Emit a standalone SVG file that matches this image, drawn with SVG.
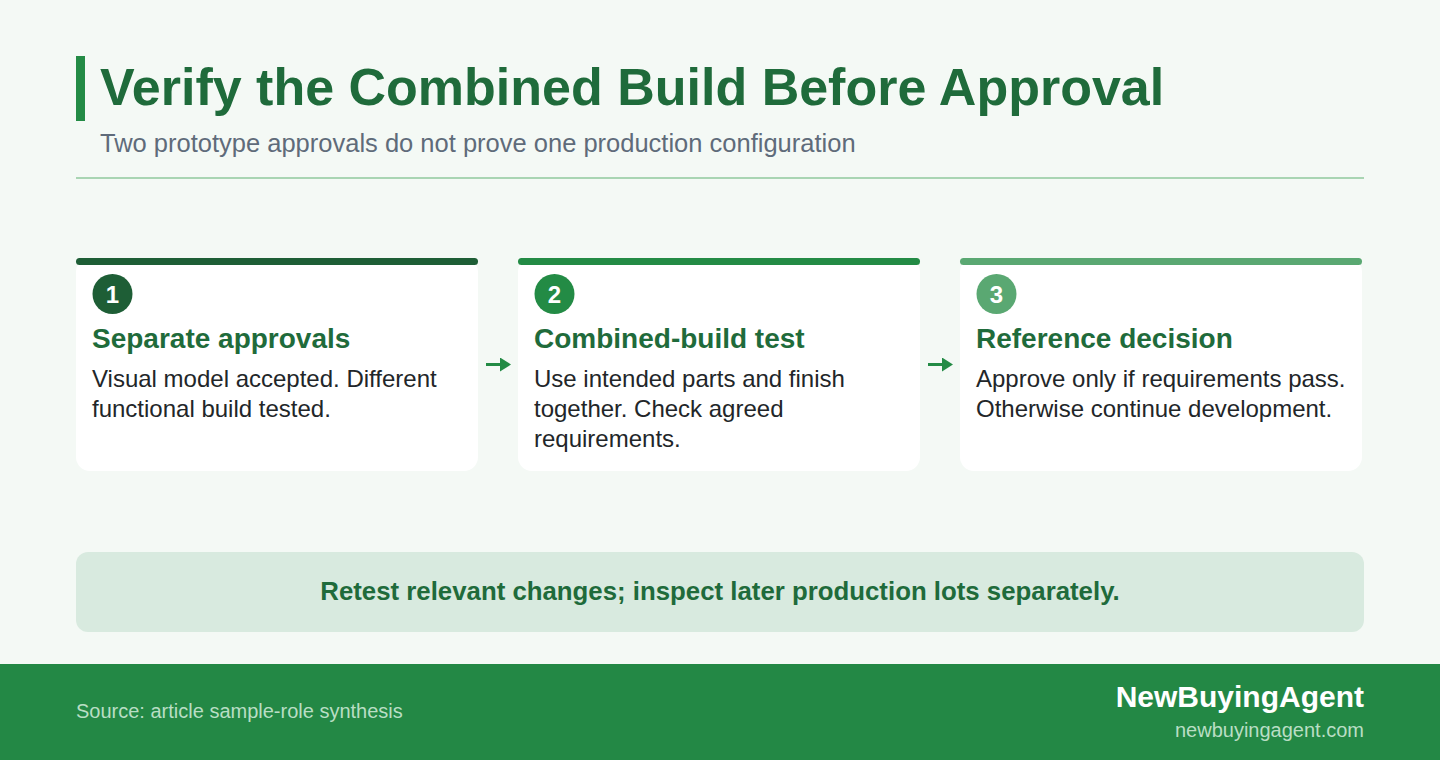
<svg xmlns="http://www.w3.org/2000/svg" width="1440" height="760" viewBox="0 0 1440 760">
<style>
text{font-family:"Liberation Sans",Arial,sans-serif}
.title{font-size:52px;font-weight:bold;fill:#1f6b3b}
.sub{font-size:25.5px;fill:#5f6b7a}
.card{fill:#ffffff}
.head{font-size:28px;font-weight:bold;fill:#1f6b3b}
.body{font-size:24px;fill:#222629}
.num{font-size:24px;font-weight:bold;fill:#ffffff;text-anchor:middle}
.conn{stroke:#238b45;stroke-width:3;fill:none}
</style>
<defs>
<marker id="ah" markerWidth="11" markerHeight="14" refX="0" refY="7" orient="auto" markerUnits="userSpaceOnUse">
<path d="M0,0 L11,7 L0,14 Z" fill="#238b45"/>
</marker>
</defs>
<rect width="1440" height="760" fill="#f4f9f5"/>
<g id="header">
<rect x="76" y="56" width="9" height="65" fill="#238b45"/>
<text class="title" x="100" y="105">Verify the Combined Build Before Approval</text>
<text class="sub" x="100" y="152">Two prototype approvals do not prove one production configuration</text>
<rect x="76" y="177" width="1288" height="2" fill="#a9d5b3"/>
</g>
<g id="step1">
<rect class="card" x="76" y="258" width="402" height="213" rx="14"/>
<rect x="76" y="258" width="402" height="7" rx="3.5" fill="#1e5e36"/>
<circle cx="112.5" cy="294" r="20" fill="#1e5e36"/>
<text class="num" x="112.5" y="302.5">1</text>
<text class="head" x="92" y="348">Separate approvals</text>
<text class="body" x="92" y="387">Visual model accepted. Different</text>
<text class="body" x="92" y="417">functional build tested.</text>
</g>
<g id="step2">
<rect class="card" x="518" y="258" width="402" height="213" rx="14"/>
<rect x="518" y="258" width="402" height="7" rx="3.5" fill="#238b45"/>
<circle cx="554.5" cy="294" r="20" fill="#238b45"/>
<text class="num" x="554.5" y="302.5">2</text>
<text class="head" x="534" y="348">Combined-build test</text>
<text class="body" x="534" y="387">Use intended parts and finish</text>
<text class="body" x="534" y="417">together. Check agreed</text>
<text class="body" x="534" y="447">requirements.</text>
</g>
<g id="step3">
<rect class="card" x="960" y="258" width="402" height="213" rx="14"/>
<rect x="960" y="258" width="402" height="7" rx="3.5" fill="#5aa872"/>
<circle cx="996.5" cy="294" r="20" fill="#5aa872"/>
<text class="num" x="996.5" y="302.5">3</text>
<text class="head" x="976" y="348">Reference decision</text>
<text class="body" x="976" y="387">Approve only if requirements pass.</text>
<text class="body" x="976" y="417">Otherwise continue development.</text>
</g>
<g id="connectors">
<line class="conn" x1="486" y1="364.5" x2="500" y2="364.5" marker-end="url(#ah)"/>
<line class="conn" x1="928" y1="364.5" x2="942" y2="364.5" marker-end="url(#ah)"/>
</g>
<g id="note">
<rect x="76" y="552" width="1288" height="80" rx="12" fill="#d8eadf"/>
<text x="720" y="600" text-anchor="middle" font-size="25.8" font-weight="bold" fill="#1f6b3b">Retest relevant changes; inspect later production lots separately.</text>
</g>
<g id="footer">
<rect x="0" y="664" width="1440" height="96" fill="#238845"/>
<text x="76" y="718" font-size="20" fill="#b9dec4">Source: article sample-role synthesis</text>
<text x="1364" y="707" text-anchor="end" font-size="30" font-weight="bold" fill="#ffffff">NewBuyingAgent</text>
<text x="1364" y="737" text-anchor="end" font-size="20" fill="#b9dec4">newbuyingagent.com</text>
</g>
</svg>
